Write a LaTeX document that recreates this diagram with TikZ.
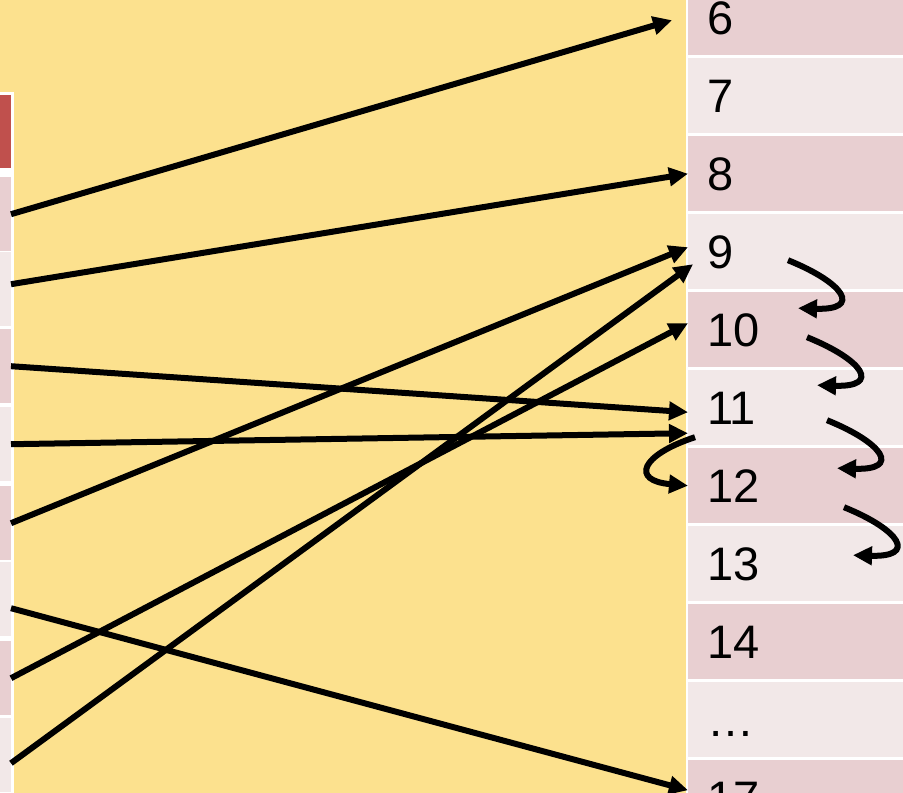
\documentclass[tikz,border=0pt]{standalone}
\usepackage{fontspec}
\setmainfont{Liberation Sans}
\usepackage{xcolor}
\usetikzlibrary{arrows.meta}

\definecolor{bgyellow}{HTML}{FCE18E}
\definecolor{rowdark}{HTML}{E8CFD1}
\definecolor{rowlight}{HTML}{F2E8E8}
\definecolor{headred}{HTML}{C0504D}

\begin{document}
\begin{tikzpicture}[x=1pt,y=-1pt,
    rcell/.style={rectangle, inner sep=0pt, inner xsep=19pt, anchor=north west,
        minimum width=215pt, minimum height=75pt, text width=177pt, align=left,
        text height=34pt, text depth=0pt, font=\fontsize{47}{50}\selectfont},
    lcell/.style={rectangle, inner sep=0pt, anchor=north east,
        minimum width=111pt, minimum height=74pt},
    ptr/.style={line width=6pt, -{Triangle[length=19pt,width=18pt]}}]
    \clip (0,0) rectangle (903,793);
    \fill [bgyellow] (0,0) rectangle (903,793);

    % left table (cut off)
    \fill [white] (-10,92) rectangle (14,800);
    \node [lcell, fill=headred, minimum height=73pt] (hd) at (11,95) {};
    \node [lcell, fill=rowdark]  (l1) at (11,177) {};
    \node [lcell, fill=rowlight] (l2) at (11,252) {};
    \node [lcell, fill=rowdark]  (l3) at (11,329) {};
    \node [lcell, fill=rowlight] (l4) at (11,407) {};
    \node [lcell, fill=rowdark]  (l5) at (11,486) {};
    \node [lcell, fill=rowlight] (l6) at (11,562) {};
    \node [lcell, fill=rowdark]  (l7) at (11,641) {};
    \node [lcell, fill=rowlight] (l8) at (11,718) {};

    % right table
    \fill [white] (686,-30) rectangle (910,800);
    \node [rcell, fill=rowdark]  (r6)  at (688,-20) {6};
    \node [rcell, fill=rowlight] (r7)  at (688,58)  {7};
    \node [rcell, fill=rowdark]  (r8)  at (688,136) {8};
    \node [rcell, fill=rowlight] (r9)  at (688,214) {9};
    \node [rcell, fill=rowdark]  (r10) at (688,292) {10};
    \node [rcell, fill=rowlight] (r11) at (688,370) {11};
    \node [rcell, fill=rowdark]  (r12) at (688,448) {12};
    \node [rcell, fill=rowlight] (r13) at (688,526) {13};
    \node [rcell, fill=rowdark]  (r14) at (688,604) {14};
    \node [rcell, fill=rowlight] (rdots) at (688,682) {\dots};
    \node [rcell, fill=rowdark]  (r17) at (688,760) {17};

    % pointers
    \draw [ptr] (l1.east) to ([shift={(-16,2.5)}]r6.west);
    \draw [ptr] ([shift={(0,-5)}]l2.east) to (r8.west);
    \draw [ptr] (l3.east) to ([shift={(0,4.5)}]r11.west);
    \draw [ptr] (l4.east) to ([shift={(0,25.5)}]r11.west);
    \draw [ptr] (l5.east) to ([shift={(0,-4.5)}]r9.west);
    \draw [ptr] ([shift={(0,9)}]l6.east) to ([shift={(0,-7.5)}]r17.west);
    \draw [ptr] (l7.east) to ([shift={(0,-6.5)}]r10.west);
    \draw [ptr] ([shift={(0,8)}]l8.east) to ([shift={(5,12.5)}]r9.west);

    % next links
    \draw [ptr] ([shift={(7,29.5)}]r11.west) .. controls +(-55,18) and +(-57,-5) .. (r12.west);
    \draw [ptr] ([shift={(100,8.5)}]r9.west) .. controls +(57,23) and +(64,2) .. ([shift={(110,-21.5)}]r10.west);
    \draw [ptr] ([shift={(119,7.5)}]r10.west) .. controls +(57,23) and +(64,2) .. ([shift={(129,-22.5)}]r11.west);
    \draw [ptr] ([shift={(139,12.5)}]r11.west) .. controls +(57,23) and +(64,2) .. ([shift={(149,-17.5)}]r12.west);
    \draw [ptr] ([shift={(156,21.5)}]r12.west) .. controls +(57,23) and +(64,2) .. ([shift={(165,-8.5)}]r13.west);
\end{tikzpicture}
\end{document}
